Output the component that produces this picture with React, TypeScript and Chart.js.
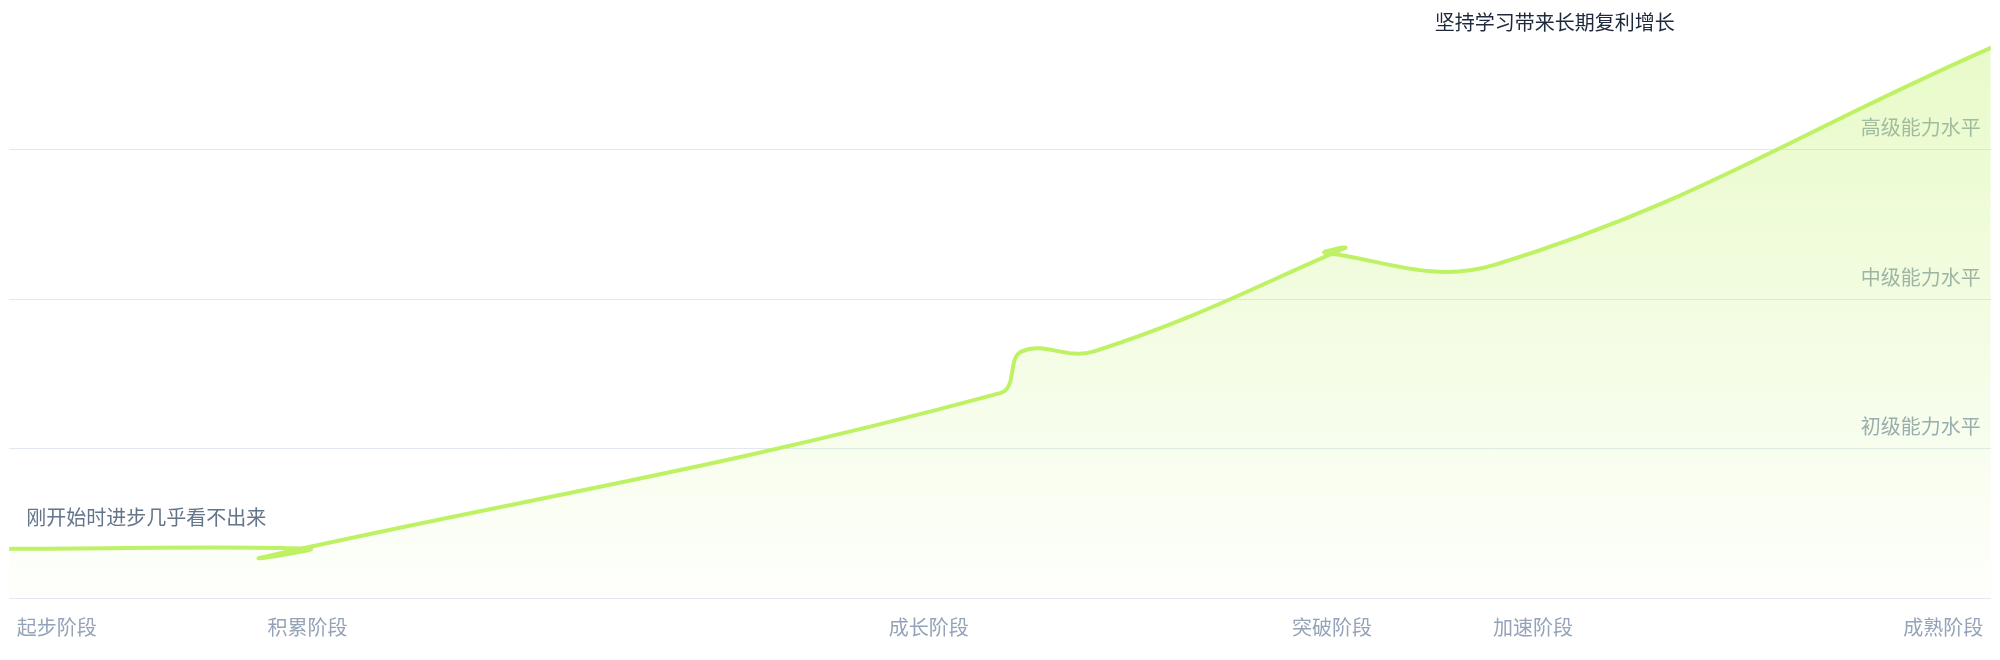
import { Chart, type ChartConfiguration, type Plugin } from "chart.js/auto";
import * as React from "react";

// x 轴刻度位置与标签
const xTickValues = [2.4, 15.05, 46.4, 66.75, 76.9, 97.6];
const xLabels = ["起步阶段", "积累阶段", "成长阶段", "突破阶段", "加速阶段", "成熟阶段"];

// y 轴刻度
const yTickValues = [100, 200, 300];
const yLabels = ["初级能力水平", "中级能力水平", "高级能力水平"];

// 成长曲线（按记录顺序）
const growthX = [0, 15.15, 12.7, 50, 51.1, 54.75, 67.4, 66.4, 75, 100];
const growthY = [33, 33, 27, 137, 165, 165, 234, 231, 223, 368];

const titleText = "坚持学习带来长期复利增长";
const startText = "刚开始时进步几乎看不出来";

const FONT = '"Noto Sans CJK SC", "Noto Sans", sans-serif';
const LIME = "#bef264";
const WIDTH = 2000;
const HEIGHT = 660;

const labelPlugin: Plugin<"line"> = {
  id: "growthLabels",
  beforeDatasetsDraw(chart) {
    const { ctx, chartArea, scales } = chart;
    const y = scales.y;
    ctx.save();
    ctx.font = `20px ${FONT}`;
    ctx.fillStyle = "#94a3b8";
    ctx.textAlign = "right";
    ctx.textBaseline = "middle";
    yTickValues.forEach((v, i) => {
      ctx.fillText(yLabels[i], chartArea.right - 10, y.getPixelForValue(v) - 22);
    });
    ctx.restore();
  },
  afterDatasetsDraw(chart) {
    const { ctx, chartArea, scales } = chart;
    ctx.save();
    ctx.font = `20px ${FONT}`;
    ctx.textBaseline = "middle";
    // 顶部说明
    ctx.fillStyle = "#1e293b";
    ctx.textAlign = "center";
    ctx.fillText(titleText, scales.x.getPixelForValue(78), chartArea.top + 22);
    // 起点说明
    ctx.fillStyle = "#64748b";
    ctx.textAlign = "left";
    ctx.fillText(startText, chartArea.left + 17, scales.y.getPixelForValue(growthY[0]) - 31);
    ctx.restore();
  },
};

export default function App() {
  const chartRef = React.useRef<HTMLCanvasElement>(null);

  React.useEffect(() => {
    document.body.style.margin = "0";
    document.body.style.overflow = "hidden";
    if (!chartRef.current) return;

    const config: ChartConfiguration<"line"> = {
      type: "line",
      data: {
        datasets: [
          {
            data: growthX.map((x, i) => ({ x, y: growthY[i] })),
            borderColor: LIME,
            borderWidth: 4,
            borderCapStyle: "round",
            borderJoinStyle: "round",
            tension: 0.4,
            pointRadius: 0,
            fill: "origin",
            backgroundColor: (context) => {
              const { ctx, chartArea } = context.chart;
              if (!chartArea) return "rgba(190,242,100,0.2)";
              const g = ctx.createLinearGradient(0, chartArea.top, 0, chartArea.bottom);
              g.addColorStop(0, "rgba(190,242,100,0.38)");
              g.addColorStop(1, "rgba(190,242,100,0.02)");
              return g;
            },
          },
        ],
      },
      options: {
        animation: false,
        responsive: false,
        devicePixelRatio: 1,
        layout: { padding: { bottom: 4 } },
        plugins: {
          legend: { display: false },
          tooltip: { enabled: false },
        },
        scales: {
          x: {
            type: "linear",
            min: 0,
            max: 100,
            grid: { display: false, drawTicks: false },
            border: { display: false },
            afterBuildTicks: (axis) => {
              axis.ticks = xTickValues.map((value) => ({ value }));
            },
            ticks: {
              autoSkip: false,
              maxRotation: 0,
              minRotation: 0,
              padding: 17,
              color: "#94a3b8",
              font: { family: FONT, size: 20 },
              callback: (_value, index) => xLabels[index],
            },
          },
          y: {
            type: "linear",
            position: "right",
            min: 0,
            max: 400,
            border: { display: false },
            ticks: { display: false, stepSize: 100 },
            grid: {
              drawTicks: false,
              color: (ctx) => (ctx.tick && ctx.tick.value === 400 ? "rgba(0,0,0,0)" : "#e2e8f0"),
            },
          },
        },
      },
      plugins: [labelPlugin],
    };

    const chart = new Chart(chartRef.current, config);
    return () => chart.destroy();
  }, []);

  return (
    <div style={{ position: "absolute", left: 0, top: 0, width: WIDTH, height: HEIGHT }}>
      <canvas ref={chartRef} width={WIDTH} height={HEIGHT} style={{ display: "block" }} />
    </div>
  );
}
